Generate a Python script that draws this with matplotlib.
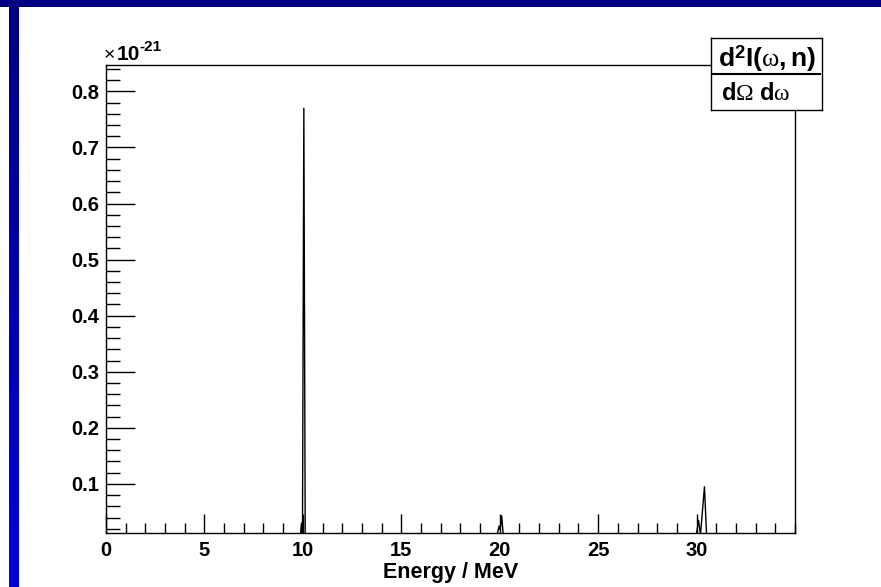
import numpy as np
import matplotlib
matplotlib.use("Agg")
import matplotlib.pyplot as plt
from matplotlib.patches import Rectangle
from matplotlib.ticker import MultipleLocator
from matplotlib.colors import LinearSegmentedColormap

plt.rcParams["mathtext.fontset"] = "custom"
plt.rcParams["mathtext.bf"] = "Liberation Sans:bold"
plt.rcParams["mathtext.rm"] = "Liberation Serif"
plt.rcParams["mathtext.it"] = "Liberation Serif"
plt.rcParams["mathtext.sf"] = "Liberation Sans:bold"

# ---- data (intensity in units of 1e-21) ----
energy = [0.0, 9.85, 9.93, 9.98, 10.05, 10.12, 10.2,
          19.8, 19.97, 20.02, 20.1, 20.2,
          29.95, 30.1, 30.2, 30.4, 30.52, 35.0]
intensity = [0.0, 0.0, 0.03, 0.005, 0.77, 0.005, 0.0,
             0.0, 0.025, 0.018, 0.043, 0.0,
             0.0, 0.035, 0.01, 0.095, 0.0, 0.0]
xticks = [0, 5, 10, 15, 20, 25, 30]
xticklabels = ["0", "5", "10", "15", "20", "25", "30"]
yticks = [0.1, 0.2, 0.3, 0.4, 0.5, 0.6, 0.7, 0.8]
yticklabels = ["0.1", "0.2", "0.3", "0.4", "0.5", "0.6", "0.7", "0.8"]
xlabel = "Energy / MeV"
exponent_text = "-21"
title_num = r"$\mathbf{d}^{\mathbf{2}}\mathbf{I(}\omega\mathbf{,n)}$"
title_den = r"$\mathbf{d}\Omega\ \mathbf{d}\omega$"

W, H = 881, 587
fig = plt.figure(figsize=(W / 100, H / 100), dpi=100)
fig.patch.set_facecolor("white")

def fx(px):
    return px / W

def fy(py):
    return 1 - py / H

# blue border: top band and left gradient band
top = fig.add_axes([0, fy(7), 1, 7 / H])
top.set_axis_off()
top.add_patch(Rectangle((0, 0), 1, 1, color="#000080", transform=top.transAxes))
left = fig.add_axes([fx(9), 0, 10 / W, fy(7)])
left.set_axis_off()
grad = np.linspace(0, 1, 256).reshape(-1, 1)
cmap = LinearSegmentedColormap.from_list("b", ["#000080", "#0000DC"])
left.imshow(grad, aspect="auto", cmap=cmap, extent=[0, 1, 0, 1], origin="upper")

# main axes
x0, x1, y0, y1 = 106, 795, 65, 533
ax = fig.add_axes([fx(x0), fy(y1), (x1 - x0) / W, (y1 - y0) / H])
ax.plot(energy, intensity, color="black", lw=1.0)
ax.set_xlim(0, 35)
ax.set_ylim(0.0125, 0.847)

fp = dict(family="Liberation Sans", weight="bold")
ax.set_xticks(xticks)
ax.set_xticklabels(xticklabels, fontsize=14.5, **fp)
ax.set_yticks(yticks)
ax.set_yticklabels(yticklabels, fontsize=14.5, **fp)
ax.xaxis.set_minor_locator(MultipleLocator(1))
ax.yaxis.set_minor_locator(MultipleLocator(0.02))
ax.tick_params(axis="x", which="major", direction="in", length=14, width=1, pad=6)
ax.tick_params(axis="x", which="minor", direction="in", length=7, width=1)
ax.tick_params(axis="y", which="major", direction="in", length=21, width=1, pad=5)
ax.tick_params(axis="y", which="minor", direction="in", length=10, width=1)
ax.tick_params(top=False, right=False)
for s in ax.spines.values():
    s.set_linewidth(1.0)
ax.set_xlabel(xlabel, fontsize=15.5, labelpad=1, **fp)

# exponent label
fig.text(fx(104), fy(60), "\u00d7", fontsize=14, family="Liberation Sans",
         ha="left", va="baseline")
fig.text(fx(117), fy(60), "10", fontsize=15, ha="left", va="baseline", **fp)
fig.text(fx(139), fy(51), exponent_text, fontsize=11, ha="left", va="baseline", **fp)

# title box
bx0, bx1, by0, by1 = 711, 822, 38, 110
tb = fig.add_axes([fx(bx0), fy(by1), (bx1 - bx0) / W, (by1 - by0) / H])
tb.set_xticks([])
tb.set_yticks([])
tb.set_facecolor("white")
for s in tb.spines.values():
    s.set_linewidth(1.0)
tb.set_xlim(0, 1)
tb.set_ylim(0, 1)
tb.text(0.5, 0.71, title_num, fontsize=19, ha="center", va="center")
tb.plot([0.02, 0.98], [0.50, 0.50], color="black", lw=1.5)
tb.text(0.40, 0.24, title_den, fontsize=17, ha="center", va="center")

fig.savefig("out.png", dpi=100)
